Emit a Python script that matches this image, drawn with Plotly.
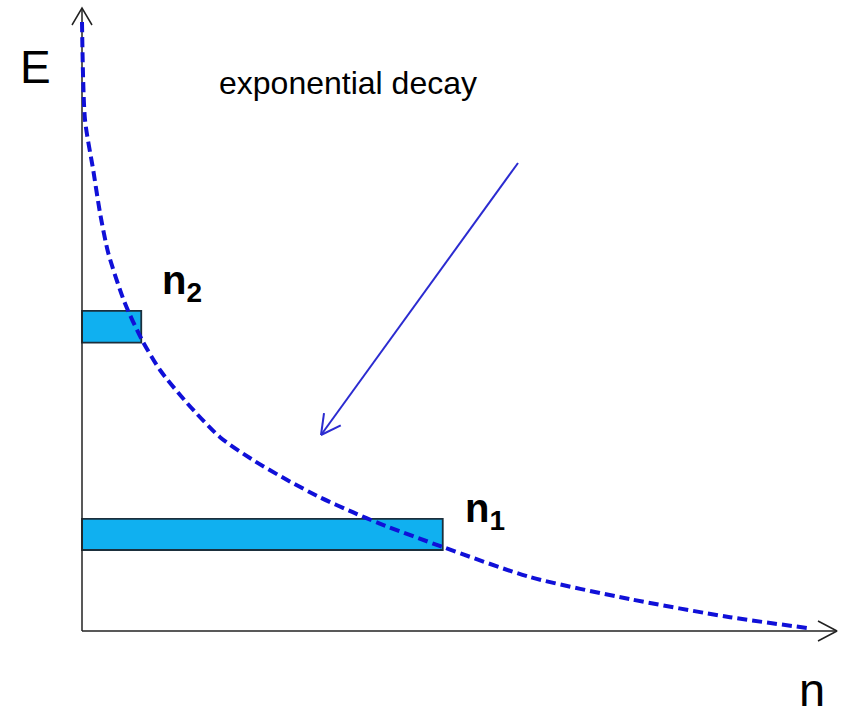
import plotly.graph_objects as go
import numpy as np

# ---- data (n, E) ----
curve_n = [0.0, 0.04, 0.15, 0.24, 0.35, 0.57, 0.80, 1.04, 1.40, 1.84, 2.28, 2.73, 3.17, 3.61, 3.97, 4.81, 5.97, 7.31, 8.64, 9.67]
curve_E = [10.15, 8.52, 7.68, 6.97, 6.30, 5.47, 4.85, 4.35, 3.80, 3.23, 2.85, 2.52, 2.23, 1.98, 1.79, 1.40, 0.90, 0.53, 0.23, 0.05]

bar_labels = ["n2", "n1"]
bar_E = [5.07, 1.61]          # energy level (bar centre)
bar_count = [0.79, 4.81]      # population n
bar_thickness = [0.53, 0.52]

W, H = 842, 712
# axis geometry: 75 px per unit in n, 60 px per unit in E, origin at pixel (82, 631)
SX, SY, X0, Y0 = 75.0, 60.0, 82.0, 631.0
xr = [-X0 / SX, (W - X0) / SX]
yr = [(Y0 - H) / SY, Y0 / SY]


def dx(px):
    return (px - X0) / SX


def dy(py):
    return (Y0 - py) / SY


FONT = "Liberation Sans, Arial, Helvetica, sans-serif"
AX_COL = "#222222"
fig = go.Figure()

# axes with open arrow heads
x_end, y_end = dx(837), dy(8)
fig.add_trace(go.Scatter(x=[0, x_end], y=[0, 0], mode="lines",
                         line=dict(color=AX_COL, width=1.5), hoverinfo="skip"))
fig.add_trace(go.Scatter(x=[0, 0], y=[0, y_end], mode="lines",
                         line=dict(color=AX_COL, width=1.5), hoverinfo="skip"))
fig.add_trace(go.Scatter(x=[x_end - 19 / SX, x_end, x_end - 19 / SX], y=[10 / SY, 0, -10 / SY],
                         mode="lines", line=dict(color=AX_COL, width=1.5), hoverinfo="skip"))
fig.add_trace(go.Scatter(x=[-10 / SX, 0, 10 / SX], y=[y_end - 17 / SY, y_end, y_end - 17 / SY],
                         mode="lines", line=dict(color=AX_COL, width=1.5), hoverinfo="skip"))

# population bars
fig.add_trace(go.Bar(orientation="h", y=bar_E, x=bar_count, base=0, width=bar_thickness,
                     marker=dict(color="#10b0f0", line=dict(color="#1b2f3c", width=1.8)),
                     hoverinfo="skip"))

# decay curve
fig.add_trace(go.Scatter(x=curve_n, y=curve_E, mode="lines",
                         line=dict(color="#1010d8", width=4, dash="10px,5px", shape="spline",
                                   smoothing=0.7),
                         hoverinfo="skip"))

# blue pointer arrow
ax0, ay0, ax1, ay1 = 518, 163, 321, 435
fig.add_trace(go.Scatter(x=[dx(ax0), dx(ax1)], y=[dy(ay0), dy(ay1)], mode="lines",
                         line=dict(color="#2b2bd0", width=2), hoverinfo="skip"))
v = np.array([ax0 - ax1, ay0 - ay1], dtype=float)
v /= np.linalg.norm(v)
L, ang = 22, np.radians(28)
for s in (1, -1):
    c, si = np.cos(s * ang), np.sin(s * ang)
    wx = v[0] * c - v[1] * si
    wy = v[0] * si + v[1] * c
    fig.add_trace(go.Scatter(x=[dx(ax1), dx(ax1 + L * wx)], y=[dy(ay1), dy(ay1 + L * wy)],
                             mode="lines", line=dict(color="#2b2bd0", width=2), hoverinfo="skip"))

# texts
ann = [
    dict(x=dx(35), y=dy(67), text="E", font=dict(size=46, family=FONT, color="black"),
         xanchor="center", yanchor="middle"),
    dict(x=dx(217), y=dy(83), text="exponential decay", font=dict(size=32, family=FONT, color="black"),
         xanchor="left", yanchor="middle"),
    dict(x=dx(160), y=dy(283), text="<b>n<sub>2</sub></b>", font=dict(size=40, family=FONT, color="black"),
         xanchor="left", yanchor="middle"),
    dict(x=dx(463), y=dy(511), text="<b>n<sub>1</sub></b>", font=dict(size=40, family=FONT, color="black"),
         xanchor="left", yanchor="middle"),
    dict(x=dx(812), y=dy(689), text="n", font=dict(size=47, family=FONT, color="black"),
         xanchor="center", yanchor="middle", borderpad=0),
]
for a in ann:
    a.update(xref="x", yref="y", showarrow=False)
    fig.add_annotation(**a)

fig.update_layout(width=W, height=H, margin=dict(l=0, r=0, t=0, b=0),
                  paper_bgcolor="white", plot_bgcolor="white", showlegend=False,
                  xaxis=dict(range=xr, visible=False, fixedrange=True),
                  yaxis=dict(range=yr, visible=False, fixedrange=True))

fig.write_html("out.html", config={"displayModeBar": False},
               post_script="document.body.style.margin='0';document.body.style.overflow='hidden';")
